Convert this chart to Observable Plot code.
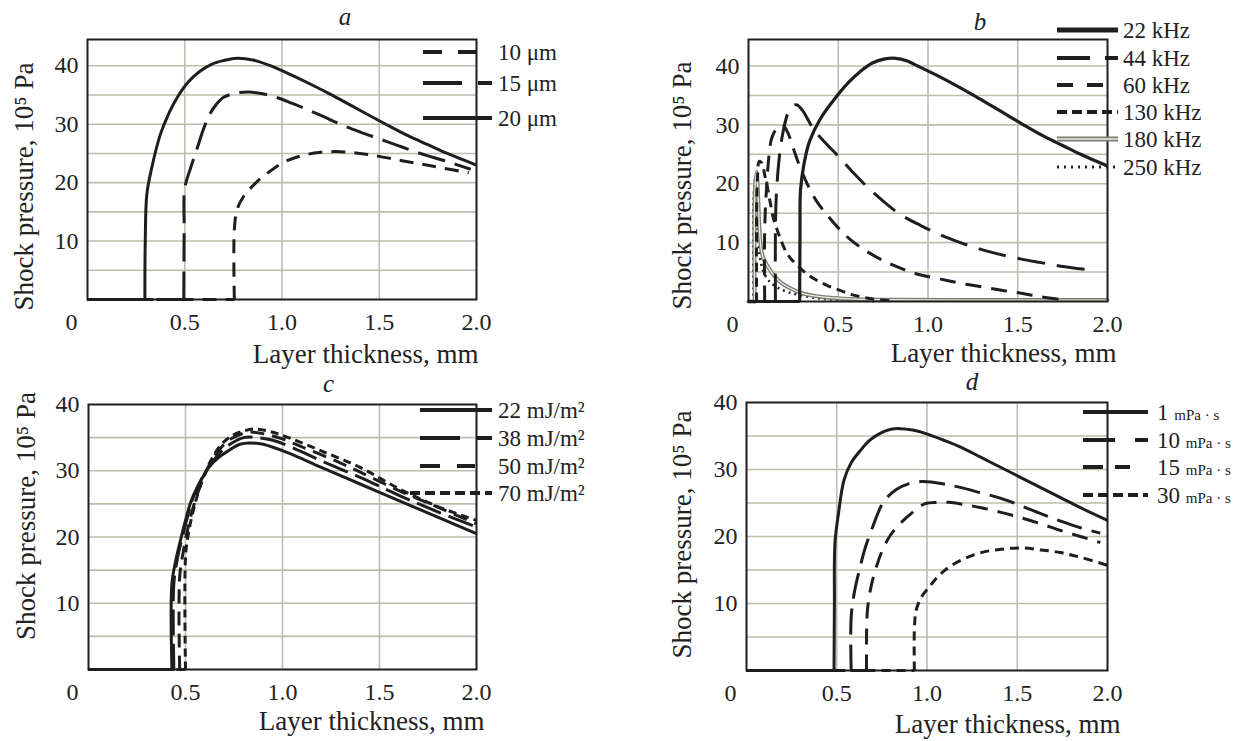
<!DOCTYPE html>
<html><head><meta charset="utf-8">
<script src="https://cdn.jsdelivr.net/npm/d3@7"></script>
<script src="https://cdn.jsdelivr.net/npm/@observablehq/plot@0.6"></script>
<style>
body{margin:0;background:#fff;}
#wrap{position:relative;width:1248px;height:741px;overflow:hidden;font-family:"Liberation Serif","Times New Roman",serif;color:#222;background:#fff}
.pnl{position:absolute}
.lg{position:absolute;white-space:nowrap;font-size:23px;line-height:1;color:#222}
.lgs{position:absolute;overflow:visible}
.sm{font-size:15px}
</style></head><body><div id="wrap"></div><script>
// ---------- ticks ----------
const xTicks = [0.5, 1.0, 1.5, 2.0];
const xGrid = [0.5, 1.0, 1.5];
const yTicks = [10, 20, 30, 40];
const yGridAB = [5, 10, 15, 20, 25, 30, 35, 40];
const yGridCD = [5, 10, 15, 20, 25, 30, 35];
const xLabel = "Layer thickness, mm";
const yLabel = "Shock pressure, 10\u2075 Pa";

// ---------- panel a : film thickness ----------
const aNames = ["10 \u03bcm", "15 \u03bcm", "20 \u03bcm"];
const a10 = [[0.755,0],[0.755,12],[0.77,15.5],[0.8,17.5],[0.86,19.8],[0.92,21.5],[1.01,23.5],[1.1,24.6],[1.2,25.2],[1.3,25.3],[1.4,25.0],[1.5,24.5],[1.61,23.8],[1.71,23.2],[1.81,22.6],[1.96,21.7]];
const a15 = [[0.495,0],[0.497,12],[0.5,19],[0.53,22.5],[0.56,25.5],[0.6,29.5],[0.63,31.8],[0.66,33.3],[0.7,34.6],[0.76,35.3],[0.83,35.5],[0.9,35.2],[0.97,34.6],[1.05,33.6],[1.13,32.5],[1.22,31.2],[1.3,30.0],[1.4,28.7],[1.5,27.5],[1.6,26.3],[1.71,25.0],[1.85,23.6],[1.97,22.3]];
const a20 = [[0.295,0],[0.297,10],[0.305,18],[0.33,22.5],[0.375,28.3],[0.42,32],[0.46,34.5],[0.52,37.3],[0.58,39.1],[0.64,40.3],[0.7,40.9],[0.77,41.3],[0.85,41.0],[0.95,39.9],[1.05,38.4],[1.15,36.8],[1.25,35.1],[1.35,33.3],[1.45,31.5],[1.55,29.7],[1.65,28.0],[1.75,26.5],[1.85,25.0],[2.0,23.0]];

// ---------- panel b : frequency ----------
const bNames = ["22 kHz", "44 kHz", "60 kHz", "130 kHz", "180 kHz", "250 kHz"];
const b22 = [[0.285,0],[0.287,12],[0.29,19],[0.31,23.5],[0.34,27.2],[0.4,31],[0.49,34.8],[0.56,37.3],[0.62,39],[0.69,40.5],[0.76,41.2],[0.82,41.3],[0.88,40.9],[0.95,39.9],[1.05,38.4],[1.15,36.8],[1.25,35.1],[1.35,33.3],[1.45,31.5],[1.55,29.7],[1.65,28.0],[1.75,26.5],[1.85,25.0],[2.0,23.0]];
const b44 = [[0.15,0],[0.15,12],[0.155,18],[0.17,24],[0.19,28.4],[0.22,32],[0.25,33.3],[0.27,33.4],[0.3,32.5],[0.36,29.4],[0.42,27.2],[0.49,25],[0.58,22],[0.67,19.2],[0.76,16.8],[0.85,14.7],[0.96,12.9],[1.07,11.3],[1.18,10],[1.29,8.9],[1.4,8],[1.52,7.2],[1.63,6.6],[1.74,6.0],[1.89,5.4]];
const b60 = [[0.09,0],[0.09,12],[0.1,19],[0.115,25],[0.13,27.8],[0.16,29.5],[0.19,30],[0.22,28.6],[0.25,26],[0.28,23.4],[0.33,19.8],[0.38,17],[0.43,15],[0.5,12.5],[0.58,10.2],[0.67,8.3],[0.76,6.8],[0.86,5.5],[0.96,4.5],[1.07,3.8],[1.18,3.1],[1.3,2.5],[1.41,1.9],[1.52,1.4],[1.63,0.8],[1.75,0.3]];
const b130 = [[0.045,0],[0.045,14],[0.05,21],[0.06,23.8],[0.075,23.5],[0.09,21.5],[0.105,19.5],[0.12,17],[0.14,14],[0.17,11.3],[0.2,9],[0.23,7.5],[0.27,6.2],[0.32,4.8],[0.38,3.6],[0.44,2.7],[0.51,1.9],[0.57,1.2],[0.64,0.7],[0.72,0.3],[0.8,0.1]];
const b180 = [[0.035,0],[0.035,18],[0.045,22],[0.052,19],[0.06,13],[0.07,9],[0.085,7.2],[0.105,6.1],[0.13,4.9],[0.16,3.8],[0.2,2.8],[0.25,2],[0.3,1.4],[0.38,0.9],[0.47,0.6],[0.6,0.4],[0.8,0.3],[1.2,0.25],[2.0,0.25]];
const b250 = [[0.028,0],[0.028,17],[0.038,21],[0.046,16],[0.055,10],[0.07,6.5],[0.09,4.6],[0.12,3.3],[0.16,2.4],[0.22,1.6],[0.3,1],[0.4,0.5],[0.55,0.2],[0.7,0.05]];

// ---------- panel c : energy density ----------
const cNames = ["22 mJ/m\u00b2", "38 mJ/m\u00b2", "50 mJ/m\u00b2", "70 mJ/m\u00b2"];
const c22 = [[0.43,0],[0.43,13],[0.45,16.5],[0.47,19],[0.5,22.5],[0.53,25.5],[0.57,28],[0.62,30.5],[0.67,32],[0.72,33],[0.78,34],[0.83,34.2],[0.9,34],[1.03,32.7],[1.2,30.5],[1.4,28],[1.6,25.5],[1.8,23],[2.0,20.5]];
const c38 = [[0.44,0],[0.44,13],[0.46,17],[0.48,19.5],[0.51,23],[0.54,26],[0.58,28.6],[0.63,31],[0.68,32.8],[0.73,34],[0.8,35],[0.87,35],[0.95,34.6],[1.05,33.5],[1.2,31.5],[1.4,29],[1.6,26.3],[1.8,23.8],[2.0,21.5]];
const c50 = [[0.47,0],[0.47,14],[0.49,18],[0.51,21],[0.54,24.5],[0.58,28],[0.63,31.3],[0.68,33.4],[0.74,34.9],[0.82,35.8],[0.9,35.6],[1.0,34.8],[1.1,33.6],[1.25,31.8],[1.4,29.8],[1.6,27],[1.8,24.5],[2.0,22]];
const c70 = [[0.5,0],[0.5,17],[0.515,20.5],[0.54,24],[0.58,28],[0.63,31.5],[0.68,33.8],[0.74,35.3],[0.8,36],[0.86,36.3],[0.95,35.8],[1.05,34.8],[1.2,33],[1.4,30.5],[1.6,27.3],[1.8,24.6],[2.0,22.5]];

// ---------- panel d : viscosity ----------
const dNums = ["1", "10", "15", "30"];
const dUnit = "mPa \u00b7 s";
const d1 = [[0.485,0],[0.487,10],[0.49,19],[0.51,23.5],[0.54,28.4],[0.58,31],[0.63,32.8],[0.68,34.3],[0.74,35.4],[0.8,36],[0.85,36.1],[0.92,35.9],[0.99,35.4],[1.09,34.4],[1.19,33.3],[1.3,31.8],[1.41,30.3],[1.52,28.8],[1.63,27.3],[1.74,25.8],[1.85,24.3],[2.0,22.4]];
const d10 = [[0.58,0],[0.58,8],[0.6,12],[0.63,15.5],[0.66,18.5],[0.7,21.5],[0.76,25.2],[0.83,27],[0.9,27.9],[0.97,28.2],[1.03,28.1],[1.1,27.8],[1.19,27.3],[1.3,26.5],[1.41,25.7],[1.52,24.6],[1.63,23.4],[1.74,22.3],[1.85,21.3],[1.96,20.5]];
const d15 = [[0.665,0],[0.665,5],[0.67,9],[0.69,12.5],[0.72,15.5],[0.76,18.4],[0.8,20.3],[0.85,21.9],[0.92,23.6],[0.99,24.9],[1.06,25.1],[1.12,25.1],[1.2,24.8],[1.3,24.3],[1.41,23.6],[1.52,22.8],[1.63,21.9],[1.74,20.9],[1.85,20],[1.96,19.1]];
const d30 = [[0.93,0],[0.93,6],[0.94,9],[0.97,11],[1.01,12.4],[1.06,14],[1.12,15.4],[1.2,16.6],[1.3,17.6],[1.41,18.1],[1.52,18.3],[1.63,18],[1.74,17.6],[1.85,16.9],[2.0,15.7]];

// ---------- styling ----------
const INK = "#1e1e1e";
const TXT = "#222";
const GRID = "#bdbdae";
const FONT = "Liberation Serif, Times New Roman, serif";
const wrap = document.getElementById("wrap");

function makePanel(cfg) {
  const marks = [
    Plot.gridX({ticks: xGrid, stroke: GRID, strokeOpacity: 1, strokeWidth: 1.6}),
    Plot.gridY({ticks: cfg.gridY, stroke: GRID, strokeOpacity: 1, strokeWidth: 1.6})
  ];
  for (const s of cfg.series) {
    const base = [[0, 0], [s.pts[0][0], 0]];
    if (s.double) {
      marks.push(Plot.line(base, {stroke: "#7d7d74", strokeWidth: 4}));
      marks.push(Plot.line(s.pts, {curve: "catmull-rom", stroke: "#7d7d74", strokeWidth: 4}));
      marks.push(Plot.line(s.pts, {curve: "catmull-rom", stroke: "#ecece4", strokeWidth: 1.3}));
    } else {
      const o = {stroke: INK, strokeWidth: s.w || 3, strokeDasharray: s.dash, strokeLinecap: s.cap || "butt"};
      marks.push(Plot.line(base, o));
      marks.push(Plot.line(s.pts, {...o, curve: "catmull-rom"}));
    }
  }
  marks.push(Plot.frame({stroke: INK, strokeWidth: 2}));
  marks.push(Plot.axisX({ticks: xTicks, tickSize: 0, tickPadding: 13, tickFormat: d3.format(".1f"), fontSize: 24, fill: TXT, label: null}));
  marks.push(Plot.axisY({ticks: yTicks, tickSize: 0, tickPadding: 9, fontSize: 24, fill: TXT, label: null}));
  marks.push(Plot.text([0], {x: d => d, frameAnchor: "bottom", lineAnchor: "top", dy: 13, dx: -16, text: d => "0", fontSize: 24, fill: TXT}));
  marks.push(Plot.text([yLabel], {frameAnchor: "left", textAnchor: "middle", rotate: -90, dx: cfg.yl[0], dy: cfg.yl[1], text: d => d, fontSize: 27, fill: TXT}));
  marks.push(Plot.text([xLabel], {frameAnchor: "bottom-right", textAnchor: "end", lineAnchor: "top", dx: cfg.xl[0], dy: cfg.xl[1], text: d => d, fontSize: 27, fill: TXT}));
  marks.push(Plot.text([cfg.letter], {frameAnchor: "top", textAnchor: "middle", lineAnchor: "middle", dx: cfg.lt[0], dy: cfg.lt[1], text: d => d, fontSize: 25, fontStyle: "italic", fill: TXT}));
  const p = Plot.plot({
    width: cfg.w, height: cfg.h,
    marginLeft: cfg.m[0], marginRight: cfg.m[1], marginTop: cfg.m[2], marginBottom: cfg.m[3],
    x: {domain: [0, 2]}, y: {domain: cfg.yDomain},
    style: {fontFamily: FONT, fontSize: "24px", background: "transparent", overflow: "visible", color: TXT},
    marks
  });
  const div = document.createElement("div");
  div.className = "pnl";
  div.style.left = cfg.left + "px"; div.style.top = cfg.top + "px";
  div.appendChild(p);
  wrap.appendChild(div);
}

// legend helper (page coordinates)
function legend(rows) {
  for (const r of rows) {
    const ns = "http://www.w3.org/2000/svg";
    const svg = document.createElementNS(ns, "svg");
    const len = r.x1 - r.x0;
    svg.setAttribute("class", "lgs");
    svg.setAttribute("width", len + 4); svg.setAttribute("height", 12);
    svg.style.left = (r.x0 - 2) + "px"; svg.style.top = (r.y - 6) + "px";
    const addLine = (stroke, w, dash, cap) => {
      const l = document.createElementNS(ns, "line");
      l.setAttribute("x1", 2); l.setAttribute("x2", len + 2);
      l.setAttribute("y1", 6); l.setAttribute("y2", 6);
      l.setAttribute("stroke", stroke); l.setAttribute("stroke-width", w);
      if (dash) l.setAttribute("stroke-dasharray", dash);
      if (cap) l.setAttribute("stroke-linecap", cap);
      svg.appendChild(l);
    };
    if (r.double) { addLine("#7d7d74", 5); addLine("#ecece4", 1.5); }
    else addLine(INK, r.w || 4, r.dash, r.cap);
    wrap.appendChild(svg);
    const t = document.createElement("div");
    t.className = "lg";
    t.style.left = r.tx + "px"; t.style.top = (r.y - 11) + "px";
    t.innerHTML = r.html;
    wrap.appendChild(t);
  }
}

// ---------- panels ----------
makePanel({left: 0, top: 0, w: 620, h: 370, m: [87, 144, 39, 71], yDomain: [0, 44.5], gridY: yGridAB,
  yl: [-63, 17], xl: [2, 44], lt: [63, -23], letter: "a",
  series: [
    {pts: a10, dash: "14,9"},
    {pts: a15, dash: "28,10"},
    {pts: a20}
  ]});
makePanel({left: 620, top: 0, w: 628, h: 370, m: [128, 141, 39, 69], yDomain: [0, 44.5], gridY: yGridAB,
  yl: [-66, 15], xl: [9, 41], lt: [52, -18], letter: "b",
  series: [
    {pts: b250, dash: "2,4", w: 2.5},
    {pts: b180, double: true},
    {pts: b130, dash: "9,6"},
    {pts: b60, dash: "16,10"},
    {pts: b44, dash: "28,12"},
    {pts: b22, w: 3.2}
  ]});
makePanel({left: 0, top: 370, w: 620, h: 371, m: [88, 144, 34, 72], yDomain: [0, 40], gridY: yGridCD,
  yl: [-62, -21], xl: [8, 41], lt: [46, -21], letter: "c",
  series: [
    {pts: c22},
    {pts: c38, dash: "26,8"},
    {pts: c50, dash: "14,8"},
    {pts: c70, dash: "8,5"}
  ]});
makePanel({left: 620, top: 370, w: 628, h: 371, m: [126, 141, 32, 71], yDomain: [0, 40], gridY: yGridCD,
  yl: [-64, -2], xl: [13, 43], lt: [45, -21], letter: "d",
  series: [
    {pts: d1},
    {pts: d10, dash: "26,10"},
    {pts: d15, dash: "16,10"},
    {pts: d30, dash: "9,6"}
  ]});

// ---------- legends ----------
legend([
  {y: 52, x0: 423, x1: 477, dash: "19,16", tx: 498, html: aNames[0]},
  {y: 83, x0: 423, x1: 492, dash: "39,16,14", tx: 498, html: aNames[1]},
  {y: 118, x0: 423, x1: 492, tx: 498, html: aNames[2]},

  {y: 30, x0: 1057, x1: 1118, w: 5, tx: 1123, html: bNames[0]},
  {y: 58, x0: 1057, x1: 1118, dash: "33,15,13", tx: 1123, html: bNames[1]},
  {y: 85, x0: 1057, x1: 1103, dash: "16,14,16", tx: 1123, html: bNames[2]},
  {y: 112, x0: 1057, x1: 1118, dash: "10,5", tx: 1123, html: bNames[3]},
  {y: 139, x0: 1057, x1: 1118, double: true, tx: 1123, html: bNames[4]},
  {y: 167, x0: 1057, x1: 1118, dash: "2,5", w: 3, tx: 1123, html: bNames[5]},

  {y: 410, x0: 420, x1: 492, tx: 498, html: cNames[0]},
  {y: 438, x0: 420, x1: 492, dash: "40,17,15", tx: 498, html: cNames[1]},
  {y: 466, x0: 420, x1: 475, dash: "20,17,18", tx: 498, html: cNames[2]},
  {y: 493, x0: 410, x1: 492, dash: "10,5", tx: 498, html: cNames[3]},

  {y: 412, x0: 1083, x1: 1148, tx: 1157, html: dNums[0] + ' <span class="sm">' + dUnit + '</span>'},
  {y: 440, x0: 1083, x1: 1148, dash: "32,20,13", tx: 1157, html: dNums[1] + ' <span class="sm">' + dUnit + '</span>'},
  {y: 467, x0: 1083, x1: 1130, dash: "20,12,15", tx: 1157, html: dNums[2] + ' <span class="sm">' + dUnit + '</span>'},
  {y: 495, x0: 1083, x1: 1148, dash: "10,5", tx: 1157, html: dNums[3] + ' <span class="sm">' + dUnit + '</span>'}
]);
</script></body></html>
